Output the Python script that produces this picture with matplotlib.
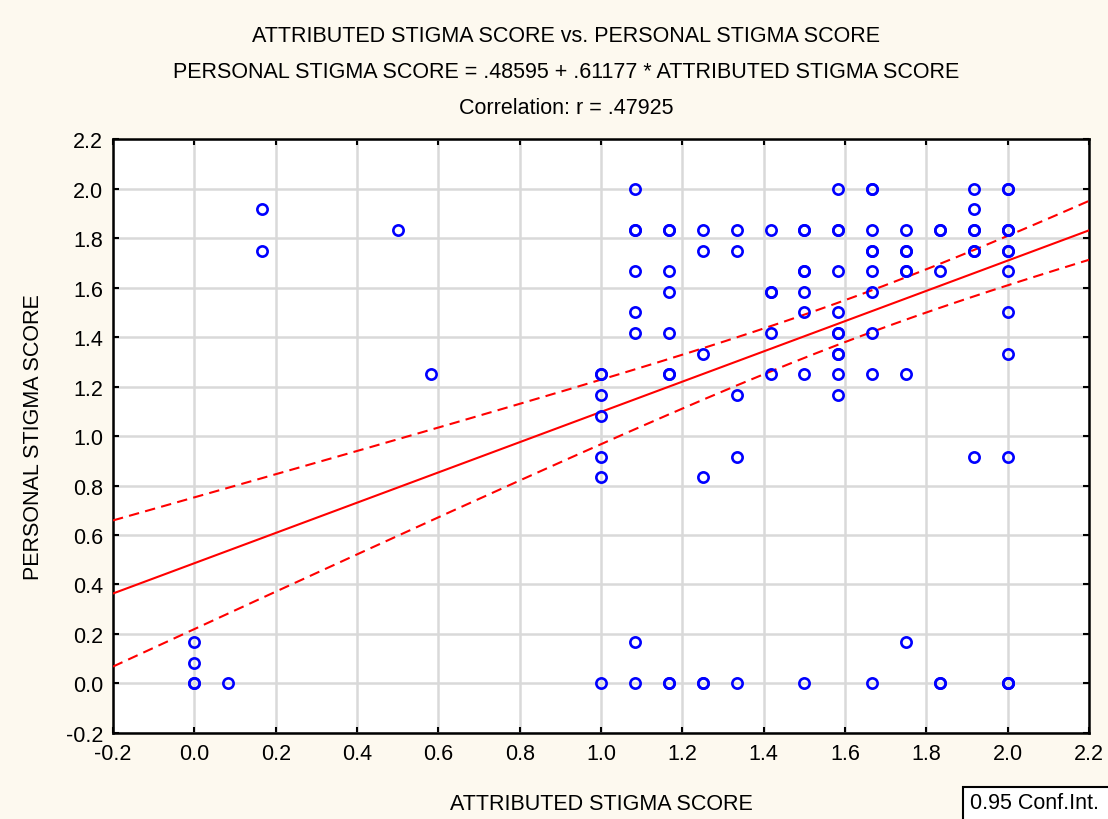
import numpy as np
import matplotlib.pyplot as plt
from matplotlib.patches import Rectangle

plt.rcParams['font.family'] = ['Liberation Sans', 'DejaVu Sans']

# scores (both scales step in twelfths)
attributed = [
    0.0, 0.0, 0.0, 0.0,
    0.083,
    0.167, 0.167,
    0.5,
    0.583,
    1.0, 1.0, 1.0, 1.0, 1.0, 1.0, 1.0,
    1.083, 1.083, 1.083, 1.083, 1.083, 1.083, 1.083, 1.083,
    1.167, 1.167, 1.167, 1.167, 1.167, 1.167, 1.167, 1.167, 1.167,
    1.25, 1.25, 1.25, 1.25, 1.25, 1.25,
    1.333, 1.333, 1.333, 1.333, 1.333,
    1.417, 1.417, 1.417, 1.417, 1.417,
    1.5, 1.5, 1.5, 1.5, 1.5, 1.5, 1.5, 1.5,
    1.583, 1.583, 1.583, 1.583, 1.583, 1.583, 1.583, 1.583, 1.583, 1.583, 1.583,
    1.667, 1.667, 1.667, 1.667, 1.667, 1.667, 1.667, 1.667, 1.667, 1.667,
    1.75, 1.75, 1.75, 1.75, 1.75, 1.75, 1.75,
    1.833, 1.833, 1.833, 1.833, 1.833,
    1.917, 1.917, 1.917, 1.917, 1.917, 1.917, 1.917,
    2.0, 2.0, 2.0, 2.0, 2.0, 2.0, 2.0, 2.0, 2.0, 2.0, 2.0, 2.0, 2.0, 2.0,
]
personal = [
    0.167, 0.083, 0.0, 0.0,
    0.0,
    1.917, 1.75,
    1.833,
    1.25,
    1.25, 1.25, 1.167, 1.083, 0.917, 0.833, 0.0,
    2.0, 1.833, 1.833, 1.667, 1.5, 1.417, 0.167, 0.0,
    1.833, 1.833, 1.667, 1.583, 1.417, 1.25, 1.25, 0.0, 0.0,
    1.833, 1.75, 1.333, 0.833, 0.0, 0.0,
    1.833, 1.75, 1.167, 0.917, 0.0,
    1.833, 1.583, 1.583, 1.417, 1.25,
    1.833, 1.833, 1.667, 1.667, 1.583, 1.5, 1.25, 0.0,
    2.0, 1.833, 1.833, 1.667, 1.5, 1.417, 1.417, 1.333, 1.333, 1.25, 1.167,
    2.0, 2.0, 1.833, 1.75, 1.75, 1.667, 1.583, 1.417, 1.25, 0.0,
    1.833, 1.75, 1.75, 1.667, 1.667, 1.25, 0.167,
    1.833, 1.833, 1.667, 0.0, 0.0,
    2.0, 1.917, 1.833, 1.833, 1.75, 1.75, 0.917,
    2.0, 2.0, 1.833, 1.833, 1.833, 1.75, 1.75, 1.667, 1.5, 1.333, 0.917, 0.0, 0.0, 0.0,
]

# fit from the chart header
intercept = 0.48595
slope = 0.61177
r_value = 0.47925
conf = 0.95

# many points overlap, so the band uses summary stats estimated from the chart
n_obs = 211
x_mean = 1.65
x_sd = 0.552
resid_se = 0.621
t_crit = 1.971

x = np.array(attributed)
y = np.array(personal)

fig = plt.figure(figsize=(11.08, 8.2), dpi=100, facecolor='#fdf9ef')
ax = fig.add_axes([0.102, 0.105, 0.881, 0.724])
ax.set_facecolor('white')

sxx = (n_obs - 1) * x_sd ** 2
xs = np.linspace(-0.2, 2.2, 200)
fit = intercept + slope * xs
hw = t_crit * resid_se * np.sqrt(1 / n_obs + (xs - x_mean) ** 2 / sxx)

ax.plot(xs, fit, color='red', lw=1.5, zorder=3)
ax.plot(xs, fit + hw, color='red', lw=1.5, ls=(0, (5, 3)), zorder=3)
ax.plot(xs, fit - hw, color='red', lw=1.5, ls=(0, (5, 3)), zorder=3)

ax.plot(x, y, 'o', mfc='none', mec='#0000ff', mew=1.9, ms=7.4, ls='none', zorder=4)

ax.set_xlim(-0.2, 2.2)
ax.set_ylim(-0.2, 2.2)
ticks = np.arange(-0.2, 2.21, 0.2)
ax.set_xticks(ticks)
ax.set_yticks(ticks)
ax.set_xticklabels(['%.1f' % v for v in ticks])
ax.set_yticklabels(['%.1f' % v for v in ticks])
ax.grid(True, color='#d9d9d9', lw=1.8)
ax.set_axisbelow(True)
ax.tick_params(direction='in', length=4, width=1.5, labelsize=15.5,
               top=True, right=True, pad=7)
for sp in ax.spines.values():
    sp.set_linewidth(1.8)

ax.set_xlabel('ATTRIBUTED STIGMA SCORE', fontsize=15.5, labelpad=21)
ax.set_ylabel('PERSONAL STIGMA SCORE', fontsize=15.5, labelpad=16)

tx = 566 / 1108
fig.text(tx, 1 - 37 / 820, 'ATTRIBUTED STIGMA SCORE vs. PERSONAL STIGMA SCORE',
         ha='center', va='center', fontsize=15.5)
fig.text(tx, 1 - 72 / 820,
         'PERSONAL STIGMA SCORE = .%s + .%s * ATTRIBUTED STIGMA SCORE'
         % (('%.5f' % intercept)[2:], ('%.5f' % slope)[2:]),
         ha='center', va='center', fontsize=15.5)
fig.text(tx, 1 - 108 / 820, 'Correlation: r = .%s' % ('%.5f' % r_value)[2:],
         ha='center', va='center', fontsize=15.5)

# legend box, cut by the figure edge as in the original
fig.patches.append(Rectangle((963 / 1108, -0.05), 0.2, 0.05 + 1 - 788 / 820,
                             transform=fig.transFigure, fc='white', ec='black', lw=1.5))
fig.text(970 / 1108, 1 - 793 / 820, '%.2f Conf.Int.' % conf, ha='left', va='top', fontsize=15.5)

fig.savefig('out.png', dpi=100, facecolor=fig.get_facecolor())
